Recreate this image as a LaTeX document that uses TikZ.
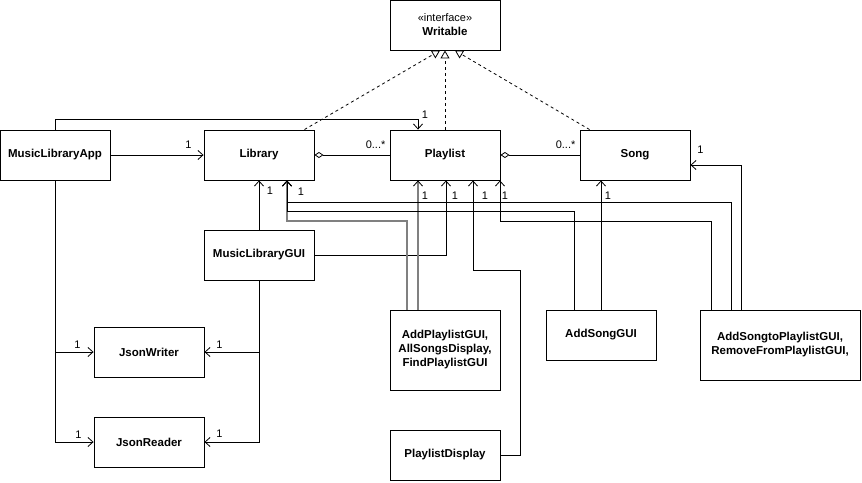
\documentclass[tikz,border=0pt]{standalone}
\usepackage{fontspec}
\setmainfont{Liberation Sans}
\usetikzlibrary{arrows.meta,calc}
\begin{document}
\begin{tikzpicture}[x=1pt,y=-1pt,
  box/.style={draw, line width=0.9pt, minimum width=110pt, minimum height=50pt, inner sep=1pt, align=center, font=\bfseries\fontsize{11.5}{14}\selectfont},
  lbl/.style={font=\fontsize{11}{13}\selectfont, inner sep=0pt},
  tip/.style={-{Straight Barb[length=5pt,width=9pt,line width=0.8pt,color=black]}},
  assoc/.style={draw, line width=0.8pt, tip},
  gassoc/.style={draw=black!50, line width=1.4pt, tip},
  agg/.style={draw, line width=0.8pt, {Diamond[open,length=9pt,width=6pt,line width=0.8pt]}-},
  real/.style={draw, dash pattern=on 3pt off 3pt, line width=0.8pt, -{Triangle[open,length=8pt,width=9pt,line width=0.8pt]}}
]
\useasboundingbox (0,0) rectangle (862,482);

% classes
\node[box] (W) at (445,25) {\mdseries\fontsize{11}{14}\selectfont «interface»\\ Writable};
\node[box] (MLA) at (55,155) {MusicLibraryApp};
\node[box] (Lib) at (259,155) {Library};
\node[box] (PL) at (445,155) {Playlist};
\node[box] (Song) at (635,155) {Song};
\node[box] (GUI) at (259,255) {MusicLibraryGUI};
\node[box] (JW) at (149,352) {JsonWriter};
\node[box] (JR) at (149,442) {JsonReader};
\node[box, minimum height=80pt] (APG) at (445,350) {AddPlaylistGUI,\\AllSongsDisplay,\\FindPlaylistGUI};
\node[box] (PD) at (445,455) {PlaylistDisplay};
\node[box] (ASG) at (601,335) {AddSongGUI};
\node[box, minimum width=160pt, minimum height=70pt] (ASP) at (780,345) {AddSongtoPlaylistGUI,\\RemoveFromPlaylistGUI,};

% ports
\coordinate (LibB2) at ($(Lib.south)+(28,0)$);
\coordinate (PLT) at ($(PL.north)+(-27,0)$);
\coordinate (PLB1) at ($(PL.south)+(-27,0)$);
\coordinate (PLB2) at ($(PL.south)+(1,0)$);
\coordinate (PLB3) at ($(PL.south)+(28,0)$);
\coordinate (PLB4) at ($(PL.south)+(55,0)$);
\coordinate (SongE) at ($(Song.east)+(0,10)$);
\coordinate (APG1) at ($(APG.north)+(-38,0)$);
\coordinate (APG2) at ($(APG.north)+(-27,0)$);
\coordinate (ASG1) at ($(ASG.north)+(-27,0)$);
\coordinate (ASP1) at ($(ASP.north)+(-69,0)$);
\coordinate (ASP2) at ($(ASP.north)+(-49,0)$);
\coordinate (ASP3) at ($(ASP.north)+(-39,0)$);

% realizations
\draw[real] ($(Lib.north east)+(-10,0)$) -- ($(W.south)+(-5,0)$);
\draw[real] (PL.north) -- (W.south);
\draw[real] ($(Song.north west)+(10,0)$) -- ($(W.south)+(10,0)$);

% aggregations
\draw[agg] (Lib.east) -- (PL.west) node[lbl,pos=1,xshift=-14pt,yshift=10pt]{0...*};
\draw[agg] (PL.east) -- (Song.west) node[lbl,pos=1,xshift=-14pt,yshift=10pt]{0...*};

% associations
\draw[assoc] (MLA.east) -- (Lib.west) node[lbl,pos=1,xshift=-15pt,yshift=10pt]{1};
\draw[assoc] (MLA.north) -- ($(MLA.north)+(0,-10)$) -| (PLT) node[lbl,pos=1,xshift=7pt,yshift=15pt]{1};
\draw[assoc] (GUI.north) -- (Lib.south) node[lbl,pos=1,xshift=11pt,yshift=-10pt]{1};
\draw[assoc] (GUI.east) -| (PLB2) node[lbl,pos=1,xshift=9pt,yshift=-15pt]{1};
\draw[assoc] (MLA.south) |- (JW.west) node[lbl,pos=1,xshift=-16pt,yshift=7pt]{1};
\draw[assoc] (MLA.south) |- (JR.west) node[lbl,pos=1,xshift=-15pt,yshift=7pt]{1};
\draw[assoc] (GUI.south) |- (JW.east) node[lbl,pos=1,xshift=15pt,yshift=7pt]{1};
\draw[assoc] (GUI.south) |- (JR.east) node[lbl,pos=1,xshift=15pt,yshift=8pt]{1};

\draw[gassoc] (APG1) -- (APG1 |- 0,221) -| (LibB2);
\draw[gassoc] (APG2) -- (PLB1) node[lbl,pos=1,xshift=7pt,yshift=-15pt,text=black]{1};
\draw[assoc] (PD.east) -| (520,270) -| (PLB3) node[lbl,pos=1,xshift=12pt,yshift=-15pt]{1};
\draw[assoc] (ASP1) -- (ASP1 |- 0,221) -| (PLB4) node[lbl,pos=1,xshift=5pt,yshift=-15pt]{1};
\draw[assoc] (ASG1) -- (ASG1 |- 0,211) -| (LibB2);
\draw[assoc] (ASP2) -- (ASP2 |- 0,202) -| (LibB2) node[lbl,pos=1,xshift=14pt,yshift=-11pt]{1};
\draw[assoc] (ASG.north) -- (ASG.north |- Song.south) node[lbl,pos=1,xshift=7pt,yshift=-15pt]{1};
\draw[assoc] (ASP3) |- (SongE) node[lbl,pos=1,xshift=10pt,yshift=15pt]{1};
\end{tikzpicture}
\end{document}
